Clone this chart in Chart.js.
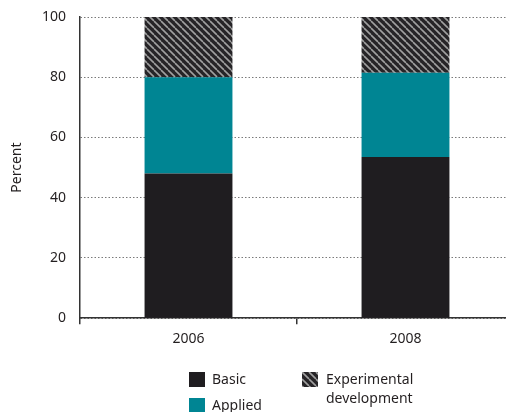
<!DOCTYPE html>
<html>
<head>
<meta charset="utf-8">
<script src="https://cdn.jsdelivr.net/npm/chart.js@4"></script>
<style>
  html, body { margin: 0; padding: 0; background: #fff; overflow: hidden; }
  #wrap { position: relative; width: 506px; height: 412px; overflow: hidden; }
  #chart { position: absolute; left: 0; top: 0; }
  .legend { position: absolute; font-family: "Noto Sans", sans-serif; font-size: 14px; color: #231f20; line-height: 19px; }
  .sw { position: absolute; width: 16px; height: 15px; }
</style>
</head>
<body>
<div id="wrap">
  <div id="box" style="position:absolute;left:0;top:0;width:514px;height:412px;">
    <canvas id="chart"></canvas>
  </div>
  <div class="sw" id="swBasic" style="left:189px;top:372px;"></div>
  <div class="legend" style="left:212px;top:369px;">Basic</div>
  <div class="sw" id="swApplied" style="left:189px;top:398px;"></div>
  <div class="legend" style="left:212px;top:395px;">Applied</div>
  <div class="sw" id="swExp" style="left:302px;top:372px;"></div>
  <div class="legend" style="left:326px;top:369px;">Experimental<br>development</div>
</div>
<script>
const years = ['2006', '2008'];
const basic = [48, 53.5];
const applied = [32, 28];
const experimental = [20, 18.5];
const yTicks = [0, 20, 40, 60, 80, 100];

const black = '#1f1d20';
const teal = '#008593';

// diagonal hatch used for experimental development
function makeStripes() {
  const c = document.createElement('canvas');
  c.width = 7; c.height = 7;
  const g = c.getContext('2d');
  g.fillStyle = '#262427';
  g.fillRect(0, 0, 7, 7);
  g.strokeStyle = '#a0a0a0';
  g.lineWidth = 1.6;
  for (const dx of [-7, 0, 7]) {
    g.beginPath();
    g.moveTo(dx, 0);
    g.lineTo(dx + 7, 7);
    g.stroke();
  }
  return c;
}
const tile = makeStripes();
const stripes = document.createElement('canvas').getContext('2d').createPattern(tile, 'repeat');

document.getElementById('swBasic').style.background = black;
document.getElementById('swApplied').style.background = teal;
document.getElementById('swExp').style.background = 'url(' + tile.toDataURL() + ')';

const font = { family: '"Noto Sans", sans-serif', size: 14 };

new Chart(document.getElementById('chart'), {
  type: 'bar',
  data: {
    labels: years,
    datasets: [
      { label: 'Basic', data: basic, backgroundColor: black },
      { label: 'Applied', data: applied, backgroundColor: teal },
      { label: 'Experimental development', data: experimental, backgroundColor: stripes }
    ]
  },
  options: {
    responsive: true,
    maintainAspectRatio: false,
    animation: false,
    layout: { padding: { top: 17, bottom: 59, left: 0, right: 0 } },
    datasets: { bar: { categoryPercentage: 1, barPercentage: 0.405 } },
    plugins: { legend: { display: false }, tooltip: { enabled: false } },
    scales: {
      x: {
        stacked: true,
        offset: true,
        grid: { offset: true, drawOnChartArea: false, drawTicks: true, tickLength: 6, color: '#333', lineWidth: 1.5 },
        border: { display: true, color: '#333', width: 1.5 },
        ticks: { color: '#231f20', font: font, padding: 6 }
      },
      y: {
        stacked: true,
        min: 0,
        max: 100,
        afterBuildTicks: (s) => { s.ticks = yTicks.map(v => ({ value: v })); },
        afterFit: (s) => { s.width = 80; s.paddingTop = 0; s.paddingBottom = 0; },
        grid: { drawTicks: false, color: '#7a7a7a', lineWidth: 1 },
        border: { display: true, color: '#333', width: 1.5, dash: [1.5, 2] },
        ticks: { color: '#231f20', font: font, padding: 14 },
        title: { display: true, text: 'Percent', color: '#231f20', font: font, padding: { top: 9, bottom: 0 } }
      }
    }
  }
});
</script>
</body>
</html>
